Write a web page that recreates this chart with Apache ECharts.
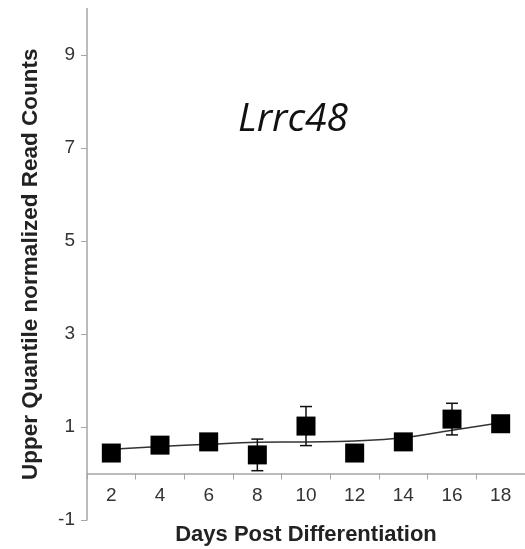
<!DOCTYPE html>
<html>
<head>
<meta charset="utf-8">
<style>
  html, body { margin: 0; padding: 0; background: #fff; }
  #chart { width: 525px; height: 549px; }
</style>
<script src="https://cdn.jsdelivr.net/npm/echarts@6/dist/echarts.min.js"></script>
</head>
<body>
<div id="chart"></div>
<script>
// values
var days = ["2", "4", "6", "8", "10", "12", "14", "16", "18"];
var meanCounts = [0.44, 0.61, 0.68, 0.40, 1.02, 0.44, 0.68, 1.17, 1.07];
var errCounts = [0.04, 0.06, 0.03, 0.34, 0.42, 0.05, 0.03, 0.34, 0.03];
var trendCounts = [0.52, 0.58, 0.63, 0.67, 0.68, 0.70, 0.77, 0.93, 1.09];
var yTicks = [-1, 1, 3, 5, 7, 9];

var chart = echarts.init(document.getElementById("chart"));

// error bar rows: [index, low, high]
var errRows = meanCounts.map(function (v, i) {
  return [i, v - errCounts[i], v + errCounts[i]];
});

var option = {
  animation: false,
  title: {
    text: "Lrrc48",
    left: 288,
    top: 95,
    textAlign: "center",
    textStyle: {
      fontFamily: "Open Sans",
      fontStyle: "italic",
      fontWeight: "normal",
      fontSize: 39,
      color: "#111"
    }
  },
  grid: {
    left: 87,
    right: 0,
    top: 8.5,
    bottom: 29,
    containLabel: false,
    outerBoundsMode: "none"
  },
  xAxis: {
    type: "category",
    data: days,
    boundaryGap: true,
    // the axis sits at y = 0, one unit above the grid bottom
    offset: -46.5,
    name: "Days Post Differentiation",
    nameLocation: "middle",
    nameGap: 50,
    nameTextStyle: {
      fontFamily: "Liberation Sans",
      fontWeight: "bold",
      fontSize: 22,
      color: "#222"
    },
    axisLine: { onZero: false, lineStyle: { color: "#a6a6a6", width: 1.5 } },
    axisTick: { show: true, alignWithLabel: false, length: 6, lineStyle: { color: "#a6a6a6" } },
    axisLabel: {
      fontFamily: "Liberation Sans",
      fontSize: 19,
      color: "#333",
      margin: 13
    }
  },
  yAxis: {
    type: "value",
    min: -1,
    max: 10,
    name: "Upper Quantile normalized Read Counts",
    nameLocation: "middle",
    nameGap: 45,
    nameTextStyle: {
      fontFamily: "Liberation Sans",
      fontWeight: "bold",
      fontSize: 22.5,
      color: "#222"
    },
    splitLine: { show: false },
    axisLine: { show: true, onZero: false, lineStyle: { color: "#a6a6a6", width: 1.5 } },
    axisTick: { show: true, length: 6, customValues: yTicks, lineStyle: { color: "#a6a6a6" } },
    axisLabel: {
      customValues: yTicks,
      fontFamily: "Liberation Sans",
      fontSize: 19,
      color: "#333",
      margin: 12
    }
  },
  series: [
    {
      name: "trend",
      type: "line",
      data: trendCounts,
      smooth: true,
      showSymbol: false,
      lineStyle: { color: "#333", width: 1.5 },
      z: 2
    },
    {
      name: "error",
      type: "custom",
      data: errRows,
      z: 3,
      renderItem: function (params, api) {
        var lo = api.coord([api.value(0), api.value(1)]);
        var hi = api.coord([api.value(0), api.value(2)]);
        var cap = 6;
        var style = { stroke: "#111", lineWidth: 1.5 };
        return {
          type: "group",
          children: [
            { type: "line", shape: { x1: lo[0], y1: lo[1], x2: hi[0], y2: hi[1] }, style: style },
            { type: "line", shape: { x1: hi[0] - cap, y1: hi[1], x2: hi[0] + cap, y2: hi[1] }, style: style },
            { type: "line", shape: { x1: lo[0] - cap, y1: lo[1], x2: lo[0] + cap, y2: lo[1] }, style: style }
          ]
        };
      }
    },
    {
      name: "mean",
      type: "scatter",
      data: meanCounts,
      symbol: "rect",
      symbolSize: 19,
      itemStyle: { color: "#000", opacity: 1 },
      z: 4
    }
  ]
};

chart.setOption(option);
</script>
</body>
</html>
